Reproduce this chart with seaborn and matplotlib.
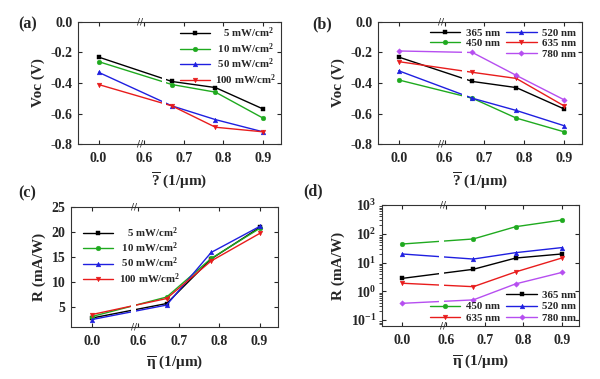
import numpy as np
import pandas as pd
import seaborn as sns
import matplotlib.pyplot as plt
from matplotlib.lines import Line2D
from matplotlib.ticker import FixedLocator, LogLocator, NullFormatter
import matplotlib.transforms as mtransforms

# x positions (1/um)
eta = [0.0, 0.67, 0.78, 0.9]

# (a) Voc vs eta for light intensities
power_labels = ['5 mW/cm$^2$', '10 mW/cm$^2$', '50 mW/cm$^2$', '100 mW/cm$^2$']
voc_5mw = [-0.23, -0.39, -0.43, -0.57]
voc_10mw = [-0.26, -0.41, -0.46, -0.63]
voc_50mw = [-0.33, -0.55, -0.64, -0.72]
voc_100mw = [-0.41, -0.55, -0.69, -0.72]

# (b) Voc vs eta for wavelengths
wave_labels = ['365 nm', '450 nm', '520 nm', '635 nm', '780 nm']
voc_365 = [-0.23, -0.39, -0.43, -0.57]
voc_450 = [-0.38, -0.50, -0.63, -0.72]
voc_520 = [-0.32, -0.50, -0.58, -0.68]
voc_635 = [-0.26, -0.33, -0.37, -0.55]
voc_780 = [-0.19, -0.20, -0.35, -0.51]

# (c) responsivity vs eta for light intensities
r_5mw = [2.8, 5.7, 14.6, 20.9]
r_10mw = [3.1, 7.0, 14.7, 20.7]
r_50mw = [2.5, 5.4, 15.9, 21.1]
r_100mw = [3.5, 6.7, 14.2, 19.7]

# (d) responsivity vs eta for wavelengths
r_365 = [2.8, 5.8, 14.3, 19.8]
r_450 = [44, 66, 176, 300]
r_520 = [19.8, 13.2, 22, 33]
r_635 = [1.9, 1.44, 4.7, 14.3]
r_780 = [0.38, 0.50, 1.8, 4.5]

colors4 = ['black', '#1faa1f', '#1f1fe0', '#e81c1c']
markers4 = ['s', 'o', '^', 'v']
colors5 = ['black', '#1faa1f', '#1f1fe0', '#e81c1c', '#b64ef0']
markers5 = ['s', 'o', '^', 'v', 'D']

sns.set_style('ticks')
plt.rcParams['font.family'] = ['Liberation Serif', 'DejaVu Serif']
plt.rcParams['font.weight'] = 'bold'
plt.rcParams['axes.labelweight'] = 'bold'
plt.rcParams['mathtext.fontset'] = 'custom'
plt.rcParams['mathtext.rm'] = 'Liberation Serif:bold'
plt.rcParams['mathtext.it'] = 'Liberation Serif:bold'
plt.rcParams['mathtext.bf'] = 'Liberation Serif:bold'
plt.rcParams['mathtext.default'] = 'rm'
plt.rcParams['axes.unicode_minus'] = False

# broken x axis: everything between b1 and b2 is squeezed out
b1, b2 = 0.105, 0.59


def fwd(x):
    x = np.asarray(x, dtype=float)
    return np.where(x <= b1, x, np.where(x >= b2, x - (b2 - b1), b1))


def inv(u):
    u = np.asarray(u, dtype=float)
    return np.where(u <= b1, u, u + (b2 - b1))


def make_df(series, labels):
    rows = []
    for vals, lab in zip(series, labels):
        for x, v in zip(eta, vals):
            rows.append({'eta': x, 'value': v, 'series': lab})
    return pd.DataFrame(rows)


def draw(ax, df, labels, colors, markers):
    for lab, c, m in zip(labels, colors, markers):
        sub = df[df['series'] == lab]
        sns.lineplot(data=sub, x='eta', y='value', ax=ax, color=c, marker=m,
                     linewidth=1.0, label=lab, legend=False, zorder=2)
        ln = ax.lines[-1]
        ln.set_markersize(3.4 if m != 'D' else 2.8)
        ln.set_markeredgewidth(0.3)
        ln.set_markeredgecolor(c)


def style_axes(ax, gap):
    ax.set_xscale('function', functions=(fwd, inv))
    ax.set_xlim(-0.052, 0.945)
    ax.xaxis.set_major_locator(FixedLocator([0.0, 0.6, 0.7, 0.8, 0.9]))
    ax.set_xticklabels(['0.0', '0.6', '0.7', '0.8', '0.9'])
    ax.tick_params(direction='in', top=True, right=True, labelsize=10,
                   length=3, width=0.8, pad=4)
    ax.tick_params(axis='x', pad=6)
    for s in ax.spines.values():
        s.set_linewidth(0.8)
        s.set_color('#333333')
    # white gap in the lines
    ax.axvspan(gap[0], gap[1], color='white', zorder=2.5, lw=0)
    tr = mtransforms.blended_transform_factory(ax.transData, ax.transAxes)
    for yy in (0, 1):
        ax.text(b1, yy, '//', transform=tr, ha='center', va='center',
                fontsize=6.5, family='DejaVu Sans', fontweight='normal',
                zorder=5)


fig = plt.figure(figsize=(6, 3.79), dpi=100)
ax_a = fig.add_axes([0.130, 0.620, 0.338, 0.322])
ax_b = fig.add_axes([0.630, 0.620, 0.340, 0.322])
ax_c = fig.add_axes([0.118, 0.137, 0.345, 0.317])
ax_d = fig.add_axes([0.637, 0.140, 0.328, 0.319])

leg_kw = dict(frameon=False, fontsize=7.8, handlelength=2.8,
              handletextpad=0.5, borderaxespad=0.15)

# (a)
df_a = make_df([voc_5mw, voc_10mw, voc_50mw, voc_100mw], power_labels)
draw(ax_a, df_a, power_labels, colors4, markers4)
style_axes(ax_a, (0.645, 0.656))
ax_a.set_ylim(-0.8, 0.0)
ax_a.set_yticks([0.0, -0.2, -0.4, -0.6, -0.8])
ax_a.set_ylabel('Voc (V)', fontsize=11)
ax_a.set_xlabel(r'$\overline{?}$ (1/μm)', fontsize=11)
h, l = ax_a.get_legend_handles_labels()
pad_labels = ['   5 mW/cm$^2$', ' 10 mW/cm$^2$', ' 50 mW/cm$^2$', '100 mW/cm$^2$']
ax_a.legend(h, pad_labels, loc='upper right', labelspacing=0.08,
            borderpad=0.2, **leg_kw)

# (b)
df_b = make_df([voc_365, voc_450, voc_520, voc_635, voc_780], wave_labels)
draw(ax_b, df_b, wave_labels, colors5, markers5)
style_axes(ax_b, (0.645, 0.656))
ax_b.set_ylim(-0.8, 0.0)
ax_b.set_yticks([0.0, -0.2, -0.4, -0.6, -0.8])
ax_b.set_ylabel('Voc (V)', fontsize=11)
ax_b.set_xlabel(r'$\overline{?}$ (1/μm)', fontsize=11)
h, l = ax_b.get_legend_handles_labels()
blank = Line2D([], [], color='none')
ax_b.legend([h[0], h[1], blank, h[2], h[3], h[4]],
            [l[0], l[1], '', l[2], l[3], l[4]], ncol=2, loc='upper right',
            labelspacing=0.1, columnspacing=0.6, **leg_kw)

# (c)
df_c = make_df([r_5mw, r_10mw, r_50mw, r_100mw], power_labels)
draw(ax_c, df_c, power_labels, colors4, markers4)
style_axes(ax_c, (0.097, 0.594))
ax_c.set_ylim(1, 25)
ax_c.set_yticks([5, 10, 15, 20, 25])
ax_c.set_ylabel('R (mA/W)', fontsize=11)
ax_c.set_xlabel(r'$\overline{\eta}$ (1/μm)', fontsize=11)
h, l = ax_c.get_legend_handles_labels()
ax_c.legend(h, pad_labels, loc='upper left', bbox_to_anchor=(0.03, 0.9),
            labelspacing=0.08, **leg_kw)

# (d)
df_d = make_df([r_365, r_450, r_520, r_635, r_780], wave_labels)
draw(ax_d, df_d, wave_labels, colors5, markers5)
ax_d.set_yscale('log')
style_axes(ax_d, (0.097, 0.594))
ax_d.set_ylim(0.062, 1000)
ax_d.yaxis.set_major_locator(LogLocator(base=10, numticks=10))
ax_d.yaxis.set_minor_formatter(NullFormatter())
ax_d.set_ylabel('R (mA/W)', fontsize=11)
ax_d.set_xlabel(r'$\overline{\eta}$ (1/μm)', fontsize=11)
h, l = ax_d.get_legend_handles_labels()
ax_d.legend([blank, h[1], h[3], h[0], h[2], h[4]],
            ['', l[1], l[3], l[0], l[2], l[4]], ncol=2, loc='lower right',
            labelspacing=0.2, columnspacing=0.6, borderpad=0.1,
            **leg_kw)

for txt, x, y in [('(a)', 0.03, 0.935), ('(b)', 0.52, 0.935),
                  ('(c)', 0.03, 0.49), ('(d)', 0.505, 0.495)]:
    fig.text(x, y, txt, fontsize=11.5, fontweight='bold', va='center')

fig.savefig('out.png', dpi=100)
